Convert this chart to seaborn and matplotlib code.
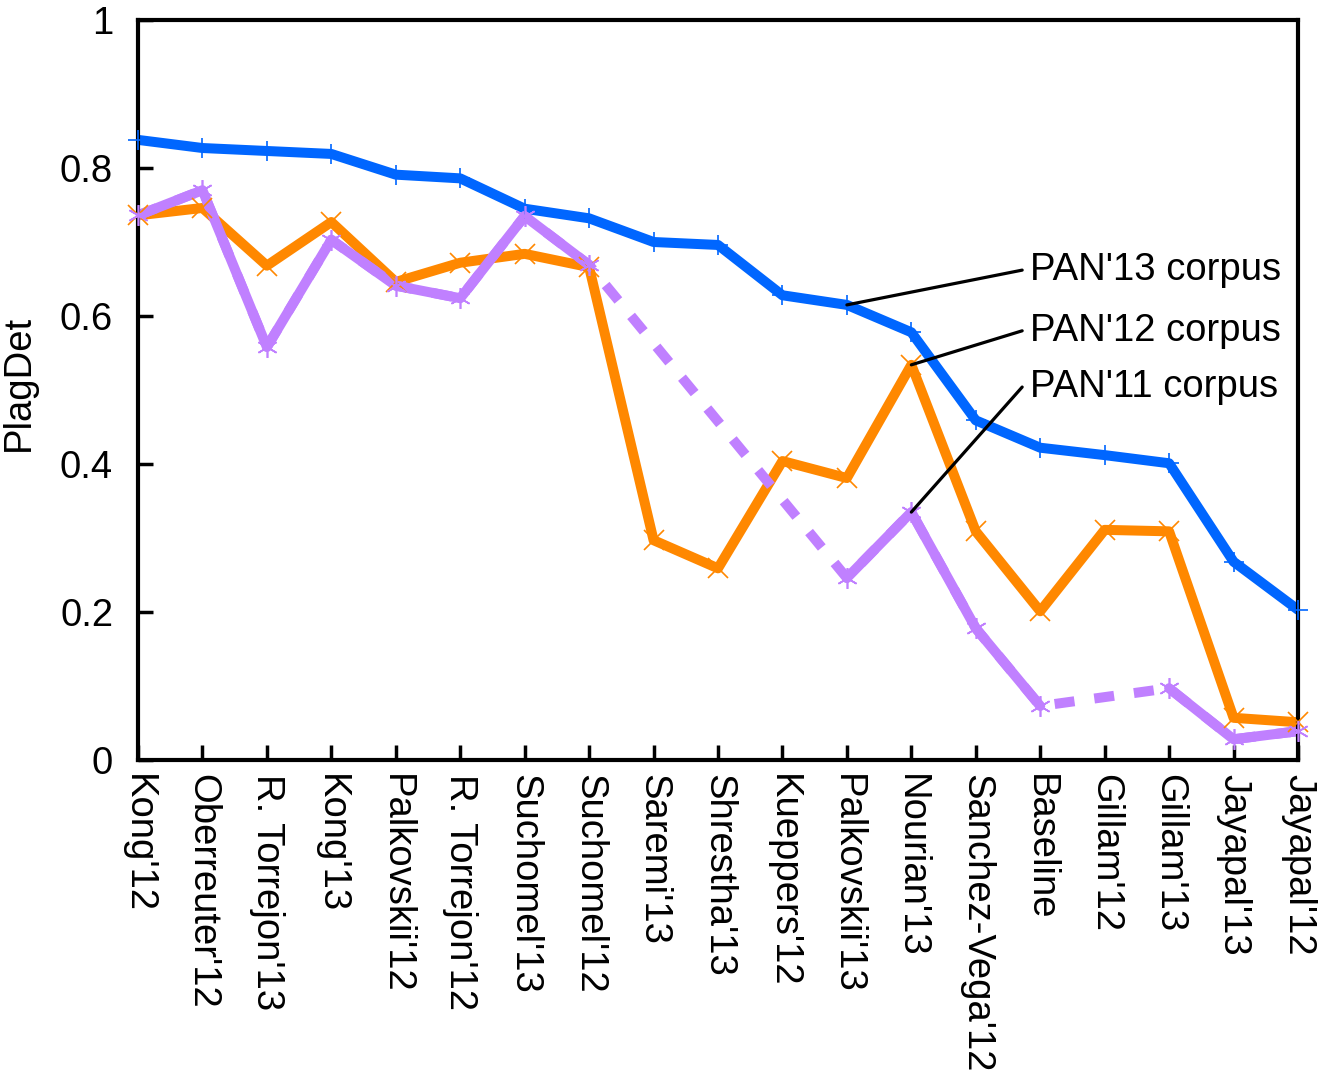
import numpy as np
import pandas as pd
import matplotlib
matplotlib.use("Agg")
import matplotlib.pyplot as plt
import seaborn as sns

categories = ["Kong'12", "Oberreuter'12", "R. Torrejon'13", "Kong'13", "Palkovskii'12",
              "R. Torrejon'12", "Suchomel'13", "Suchomel'12", "Saremi'13", "Shrestha'13",
              "Kueppers'12", "Palkovskii'13", "Nourian'13", "Sanchez-Vega'12", "Baseline",
              "Gillam'12", "Gillam'13", "Jayapal'13", "Jayapal'12"]

pan13 = [0.838, 0.827, 0.823, 0.819, 0.791, 0.786, 0.745, 0.732, 0.700, 0.696,
         0.628, 0.615, 0.578, 0.459, 0.422, 0.412, 0.401, 0.268, 0.203]
pan12 = [0.736, 0.746, 0.668, 0.727, 0.646, 0.672, 0.684, 0.666, 0.297, 0.259,
         0.404, 0.381, 0.534, 0.309, 0.201, 0.311, 0.309, 0.057, 0.051]
pan11 = [0.736, 0.770, 0.558, 0.703, 0.641, 0.624, 0.735, 0.669, np.nan, np.nan,
         np.nan, 0.246, 0.335, 0.178, 0.073, np.nan, 0.097, 0.028, 0.039]

series_names = ["PAN'13 corpus", "PAN'12 corpus", "PAN'11 corpus"]
colors = ["#0066FF", "#FF8800", "#C080FF"]
markers = ["+", "x", (6, 2, 0)]

sns.set_theme(style="white")
plt.rcParams['font.family'] = ['Liberation Sans', 'DejaVu Sans']

fig = plt.figure(figsize=(13.22, 10.73), dpi=100)
ax = fig.add_axes([138/1322, 1-760/1073, (1298-138)/1322, (760-20)/1073])

x = np.arange(len(categories))
lw = 7.2
fs = 27.5

for vals, name, col, mk in zip([pan13, pan12, pan11], series_names, colors, markers):
    v = np.array(vals, dtype=float)
    df = pd.DataFrame({"x": x, "y": v})
    valid = ~np.isnan(v)
    df["seg"] = np.cumsum(~valid)
    dfv = df[valid]
    if (~valid).any():
        sns.lineplot(data=dfv, x="x", y="y", ax=ax, color=col, lw=lw,
                     linestyle=(0, (2.0, 2.0)), estimator=None, sort=True, legend=False)
    sns.lineplot(data=dfv, x="x", y="y", units="seg", estimator=None, ax=ax,
                 color=col, lw=lw, legend=False, sort=True)
    ax.plot(dfv["x"], dfv["y"], linestyle="none", marker=mk, color=col,
            markersize=15, markeredgewidth=1.2, clip_on=False, zorder=5)

ax.set_xlim(0, len(categories) - 1)
ax.set_ylim(0, 1)
ax.set_xticks(x)
ax.set_xticklabels(categories, rotation=-90, ha="center", va="top", fontsize=fs)
ax.set_yticks([0, 0.2, 0.4, 0.6, 0.8, 1.0])
ax.set_yticklabels(["0", "0.2", "0.4", "0.6", "0.8", "1"], fontsize=fs)
ax.tick_params(axis="both", direction="in", length=11, width=2.5, color="black",
               labelcolor="black")
ax.tick_params(axis="y", pad=18, left=True)
ax.tick_params(axis="x", pad=10, bottom=True)
ax.set_ylabel("PlagDet", fontsize=fs, color="black")
ax.yaxis.set_label_coords((37 - 138) / 1160, 0.51)
ax.set_xlabel("")
for s in ax.spines.values():
    s.set_linewidth(3)
    s.set_color("black")

# annotations
ann = [(11, pan13[11], 13.72, 0.662), (12, pan12[12], 13.72, 0.580), (12, pan11[12], 13.72, 0.504)]
for (px, py, tx, ty), name in zip(ann, series_names):
    ax.annotate("", xy=(px, py), xytext=(tx, ty),
                arrowprops=dict(arrowstyle="-", lw=2.3, color="black",
                                shrinkA=0, shrinkB=0), zorder=6)
    ax.text(tx + 0.12, ty, name, fontsize=fs, ha="left", va="center", color="black")

fig.savefig("out.png", dpi=100)
